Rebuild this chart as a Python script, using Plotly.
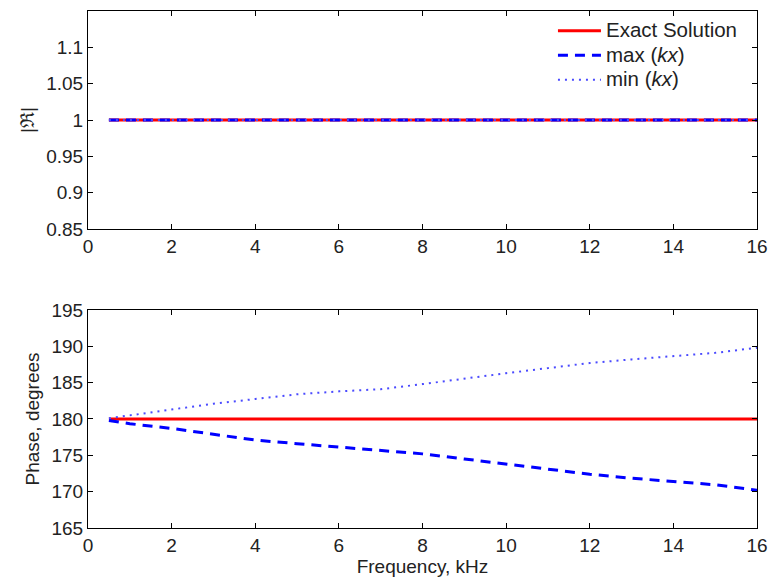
import plotly.graph_objects as go
from plotly.subplots import make_subplots

freq = [0.5, 1, 2, 3, 4, 5, 6, 7, 8, 9, 10, 11, 12, 13, 14, 15, 16]
mag_exact = [1.0] * len(freq)
mag_max = [1.0] * len(freq)
mag_min = [1.0] * len(freq)
phase_exact = [180.0] * len(freq)
phase_max = [179.8, 179.35, 178.7, 177.9, 177.1, 176.6, 176.15, 175.7, 175.2, 174.5,
             173.8, 173.05, 172.4, 171.85, 171.4, 170.95, 170.2]
phase_min = [180.1, 180.5, 181.35, 182.1, 182.75, 183.4, 183.8, 184.1, 184.8, 185.6,
             186.3, 187.0, 187.7, 188.2, 188.6, 189.1, 189.8]

xticks = [0, 2, 4, 6, 8, 10, 12, 14, 16]
mag_ticks = [0.85, 0.9, 0.95, 1, 1.05, 1.1]
mag_ticklabels = ["0.85", "0.9", "0.95", "1", "1.05", "1.1"]
phase_ticks = [165, 170, 175, 180, 185, 190, 195]
series_names = ["Exact Solution", "max (<i>kx</i>)", "min (<i>kx</i>)"]

red = "#ff0000"
blue = "#0000ff"
dot_blue = "#4a4aff"

fig = make_subplots(rows=2, cols=1, vertical_spacing=0.1566)

def lbl(s):
    return '<span style="font-size:20.5px">' + s + '</span>'

def add_set(row, y_exact, y_max, y_min, show):
    fig.add_trace(go.Scatter(x=freq, y=y_exact, mode="lines", name=lbl(series_names[0]),
                             line=dict(color=red, width=3), showlegend=show),
                  row=row, col=1)
    fig.add_trace(go.Scatter(x=freq, y=y_max, mode="lines", name=lbl(series_names[1]),
                             line=dict(color=blue, width=3, dash="10px,7px"), showlegend=show),
                  row=row, col=1)
    fig.add_trace(go.Scatter(x=freq, y=y_min, mode="lines", name=lbl(series_names[2]),
                             line=dict(color=dot_blue, width=2, dash="2px,5px"), showlegend=show),
                  row=row, col=1)

add_set(1, mag_exact, mag_max, mag_min, True)
add_set(2, phase_exact, phase_max, phase_min, False)

axis_common = dict(showline=True, linecolor="black", linewidth=1, mirror="ticks",
                   ticks="inside", ticklen=5, tickcolor="black", showgrid=False,
                   zeroline=False, tickfont=dict(size=19, color="#222"))

fig.update_xaxes(range=[0, 16], tickvals=xticks, **axis_common)
fig.update_xaxes(title=dict(text="Frequency, kHz", font=dict(size=19, color="#222"), standoff=0),
                 row=2, col=1)
fig.update_yaxes(range=[0.85, 1.15], tickvals=mag_ticks, ticktext=mag_ticklabels,
                 title=dict(text="|ℜ|", font=dict(size=19, color="#222"), standoff=6),
                 row=1, col=1, **axis_common)
fig.update_yaxes(range=[165, 195], tickvals=phase_ticks,
                 title=dict(text="Phase, degrees", font=dict(size=19, color="#222"), standoff=6),
                 row=2, col=1, **axis_common)

fig.update_layout(
    width=774, height=583,
    margin=dict(l=88, r=17, t=11, b=55, autoexpand=False),
    paper_bgcolor="white", plot_bgcolor="white",
    font=dict(family="Liberation Sans, Arial, sans-serif", size=19, color="#222"),
    legend=dict(x=0.695, y=0.995, xanchor="left", yanchor="top",
                bgcolor="rgba(255,255,255,0)", borderwidth=0,
                font=dict(size=16.5), tracegroupgap=0, itemwidth=43),
)

fig.write_html("out.html", post_script="document.body.style.margin='0px';",
               config={"displayModeBar": False})
